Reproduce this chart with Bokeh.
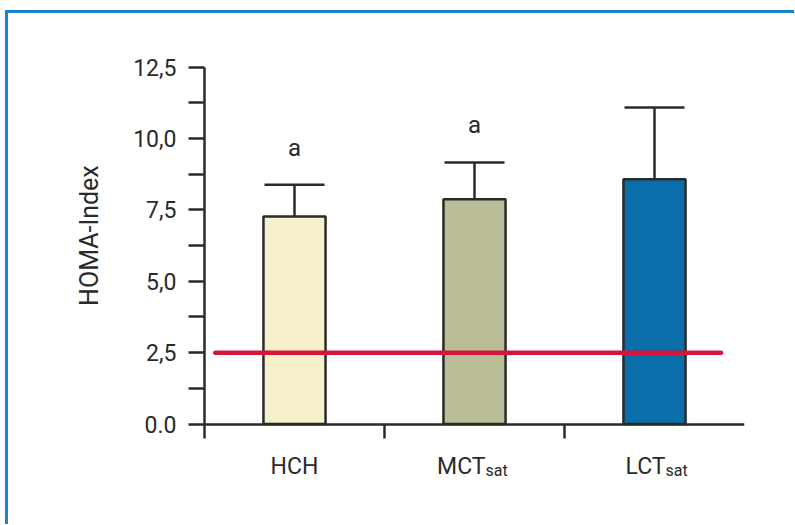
from bokeh.plotting import figure
from bokeh.models import Range1d, FixedTicker, Whisker, TeeHead, ColumnDataSource, Label
from bokeh.embed import file_html
from bokeh.resources import INLINE

# ---- data ----
categories_main = ["HCH", "MCT", "LCT"]
categories_sub = ["", "sat", "sat"]
means = [7.27, 7.87, 8.57]
errors = [1.11, 1.29, 2.51]
sig_letters = ["a", "a", ""]
threshold = 2.5
threshold_span = [0.06, 2.87]
y_axis_title = "HOMA-Index"
y_tick_values = [0, 2.5, 5.0, 7.5, 10.0, 12.5]
y_tick_labels = ["0.0", "2,5", "5,0", "7,5", "10,0", "12,5"]
y_minor_ticks = [1.25, 3.75, 6.25, 8.75, 11.25]
x_boundary_ticks = [0, 1, 2]

# ---- styles ----
bar_colors = ["#f5f0c9", "#bbbd96", "#0a6eaa"]
ink = "#2a2a2a"
red = "#d5143a"
frame_blue = "#1b84c6"
FONT = "Roboto"

n = len(means)
xs = [i + 0.5 for i in range(n)]
y_lo, y_hi = y_tick_values[0], y_tick_values[-1]
src = ColumnDataSource(dict(
    x=xs, top=means, upper=[m + e for m, e in zip(means, errors)],
    color=bar_colors,
))

p = figure(
    frame_width=720, frame_height=457,
    x_range=Range1d(-1, n), y_range=Range1d(-2.5, y_hi + 1),
    output_backend="svg", toolbar_location=None,
    min_border_left=16, min_border_right=50,
    min_border_top=25, min_border_bottom=29,
)
p.styles = {
    "border-top": f"3px solid {frame_blue}",
    "border-left": f"3px solid {frame_blue}",
    "margin-left": "5px",
    "margin-top": "10px",
}
p.outline_line_color = None
p.grid.visible = False
p.background_fill_color = "white"
p.border_fill_color = "white"

p.vbar(x="x", top="top", width=0.345, source=src, fill_color="color",
       line_color=ink, line_width=2.5)

p.add_layout(Whisker(base="x", lower="top", upper="upper", source=src,
                     dimension="height", line_color=ink, line_width=2.5,
                     upper_head=TeeHead(size=60, line_color=ink, line_width=2.5),
                     lower_head=None))

p.line(x=threshold_span, y=[threshold, threshold], line_color=red,
       line_width=4.5, line_cap="round")

# significance letters
for xi, top, err, s in zip(xs, means, errors, sig_letters):
    if s:
        p.add_layout(Label(x=xi, y=top + err, text=s, text_align="center",
                           text_baseline="alphabetic", y_offset=37,
                           text_font=FONT, text_font_size="24px", text_color=ink))

# category labels (with subscripts)
for xi, main, sub in zip(xs, categories_main, categories_sub):
    if sub:
        p.add_layout(Label(x=xi, y=0, text=main, text_align="right",
                           text_baseline="alphabetic", x_offset=11, y_offset=-42,
                           text_font=FONT, text_font_size="23px", text_color=ink))
        p.add_layout(Label(x=xi, y=0, text=sub, text_align="left",
                           text_baseline="alphabetic", x_offset=11, y_offset=-46,
                           text_font=FONT, text_font_size="16px", text_color=ink))
    else:
        p.add_layout(Label(x=xi, y=0, text=main, text_align="center",
                           text_baseline="alphabetic", y_offset=-42,
                           text_font=FONT, text_font_size="23px", text_color=ink))

# y axis title (rotated)
p.add_layout(Label(x=0, y=(y_lo + y_hi) / 2, text=y_axis_title, angle=90,
                   angle_units="deg", text_align="center", text_baseline="middle",
                   x_offset=-115, y_offset=10,
                   text_font=FONT, text_font_size="25px", text_color=ink))

# y axis at x = 0
yax = p.yaxis[0]
yax.fixed_location = 0
yax.bounds = (y_lo, y_hi)
yax.ticker = FixedTicker(ticks=y_tick_values, minor_ticks=y_minor_ticks)
yax.major_label_overrides = dict(zip(y_tick_values, y_tick_labels))
yax.major_label_text_font = FONT
yax.major_label_text_font_size = "23px"
yax.major_label_text_color = ink
yax.major_label_standoff = 12
yax.axis_line_color = ink
yax.axis_line_width = 2.5
yax.major_tick_line_color = ink
yax.major_tick_line_width = 2.5
yax.minor_tick_line_color = ink
yax.minor_tick_line_width = 2.5
yax.major_tick_out = 16
yax.major_tick_in = 0
yax.minor_tick_out = 16
yax.minor_tick_in = 0

# x axis at y = 0
xax = p.xaxis[0]
xax.fixed_location = 0
xax.bounds = (0, n)
xax.ticker = FixedTicker(ticks=x_boundary_ticks, minor_ticks=[])
xax.major_label_overrides = {t: "" for t in x_boundary_ticks}
xax.axis_line_color = ink
xax.axis_line_width = 2.5
xax.major_tick_line_color = ink
xax.major_tick_line_width = 2.5
xax.major_tick_out = 14
xax.major_tick_in = 0
xax.minor_tick_line_color = None

open("out.html", "w").write(file_html(p, INLINE))
